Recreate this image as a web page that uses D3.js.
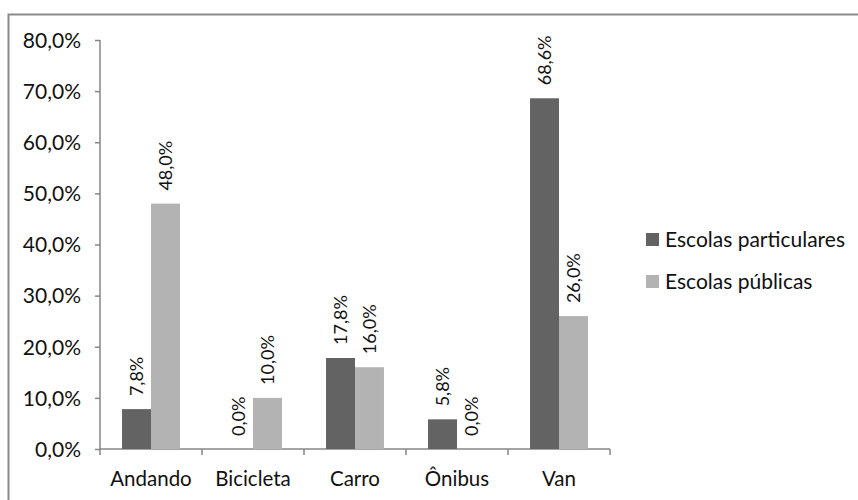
<!DOCTYPE html>
<html>
<head>
<meta charset="utf-8">
<script src="https://cdn.jsdelivr.net/npm/d3@7"></script>
<style>
  html, body { margin: 0; padding: 0; background: #fff; }
  svg { display: block; }
  text { font-family: Lato, "Open Sans", sans-serif; fill: #111; }
</style>
</head>
<body>
<svg id="chart" width="858" height="500"></svg>
<script>
// Meio de transporte até a escola, por tipo de escola
const categories = ["Andando", "Bicicleta", "Carro", "Ônibus", "Van"];
const seriesNames = ["Escolas particulares", "Escolas públicas"];
const particulares = [7.8, 0.0, 17.8, 5.8, 68.6];
const publicas = [48.0, 10.0, 16.0, 0.0, 26.0];
const yTicks = [0, 10, 20, 30, 40, 50, 60, 70, 80];

const colors = ["#636363", "#b3b3b3"];
const fmt = v => v.toFixed(1).replace(".", ",") + "%";

const svg = d3.select("#chart");

// outer chart frame (runs past the right and bottom edges)
svg.append("rect")
  .attr("x", 8.5).attr("y", 14.5)
  .attr("width", 900).attr("height", 600)
  .attr("fill", "none")
  .attr("stroke", "#8a8a8a")
  .attr("stroke-width", 2);

const plot = { left: 100, right: 610, top: 40, bottom: 449 };

const x = d3.scaleBand()
  .domain(categories)
  .range([plot.left, plot.right]);

const x1 = d3.scaleBand()
  .domain(seriesNames)
  .range([0, x.bandwidth()])
  .paddingOuter(0.76)
  .paddingInner(0);

const y = d3.scaleLinear()
  .domain([0, 80])
  .range([plot.bottom, plot.top]);

const axisColor = "#868686";

// y axis
const yAxis = svg.append("g")
  .attr("transform", `translate(${plot.left},0)`)
  .call(d3.axisLeft(y).tickValues(yTicks).tickSize(5).tickPadding(14).tickFormat(fmt));
yAxis.selectAll("path, line").attr("stroke", axisColor).attr("stroke-width", 1.5);
yAxis.select(".domain").attr("d", `M0,${plot.bottom}V${plot.top}`);
yAxis.selectAll("text").attr("font-size", 21).attr("font-family", "Lato").attr("fill", "#111").attr("dy", "0.35em");

// x axis with tick marks at category boundaries
const xg = svg.append("g").attr("transform", `translate(0,${plot.bottom})`);
xg.append("line")
  .attr("x1", plot.left).attr("x2", plot.right)
  .attr("stroke", axisColor).attr("stroke-width", 1.5);
const boundaries = categories.map(c => x(c)).concat([plot.right]);
xg.selectAll(".tick-b").data(boundaries).join("line")
  .attr("x1", d => d).attr("x2", d => d)
  .attr("y1", 0).attr("y2", 6)
  .attr("stroke", axisColor).attr("stroke-width", 1.5);
xg.selectAll(".cat").data(categories).join("text")
  .attr("x", d => x(d) + x.bandwidth() / 2)
  .attr("y", 37)
  .attr("text-anchor", "middle")
  .attr("font-size", 20.5)
  .text(d => d);

// bars
const rows = categories.map((c, i) => ({
  cat: c,
  vals: [
    { s: seriesNames[0], v: particulares[i], k: 0 },
    { s: seriesNames[1], v: publicas[i], k: 1 }
  ]
}));

const groups = svg.selectAll(".grp").data(rows).join("g")
  .attr("transform", d => `translate(${x(d.cat)},0)`);

groups.selectAll("rect").data(d => d.vals).join("rect")
  .attr("x", d => x1(d.s))
  .attr("y", d => y(d.v))
  .attr("width", x1.bandwidth())
  .attr("height", d => y(0) - y(d.v))
  .attr("fill", d => colors[d.k]);

// rotated value labels above each bar
groups.selectAll(".lbl").data(d => d.vals).join("text")
  .attr("transform", d => `translate(${x1(d.s) + x1.bandwidth() / 2},${y(d.v) - 13}) rotate(-90)`)
  .attr("dy", "0.35em")
  .attr("text-anchor", "start")
  .attr("font-size", 18)
  .text(d => fmt(d.v));

// legend
const legend = svg.append("g").attr("transform", "translate(646,233)");
const li = legend.selectAll("g").data(seriesNames).join("g")
  .attr("transform", (d, i) => `translate(0,${i * 42})`);
li.append("rect").attr("width", 13).attr("height", 13).attr("fill", (d, i) => colors[i]);
li.append("text").attr("x", 19).attr("y", 14).attr("font-size", 21).text(d => d);
</script>
</body>
</html>
